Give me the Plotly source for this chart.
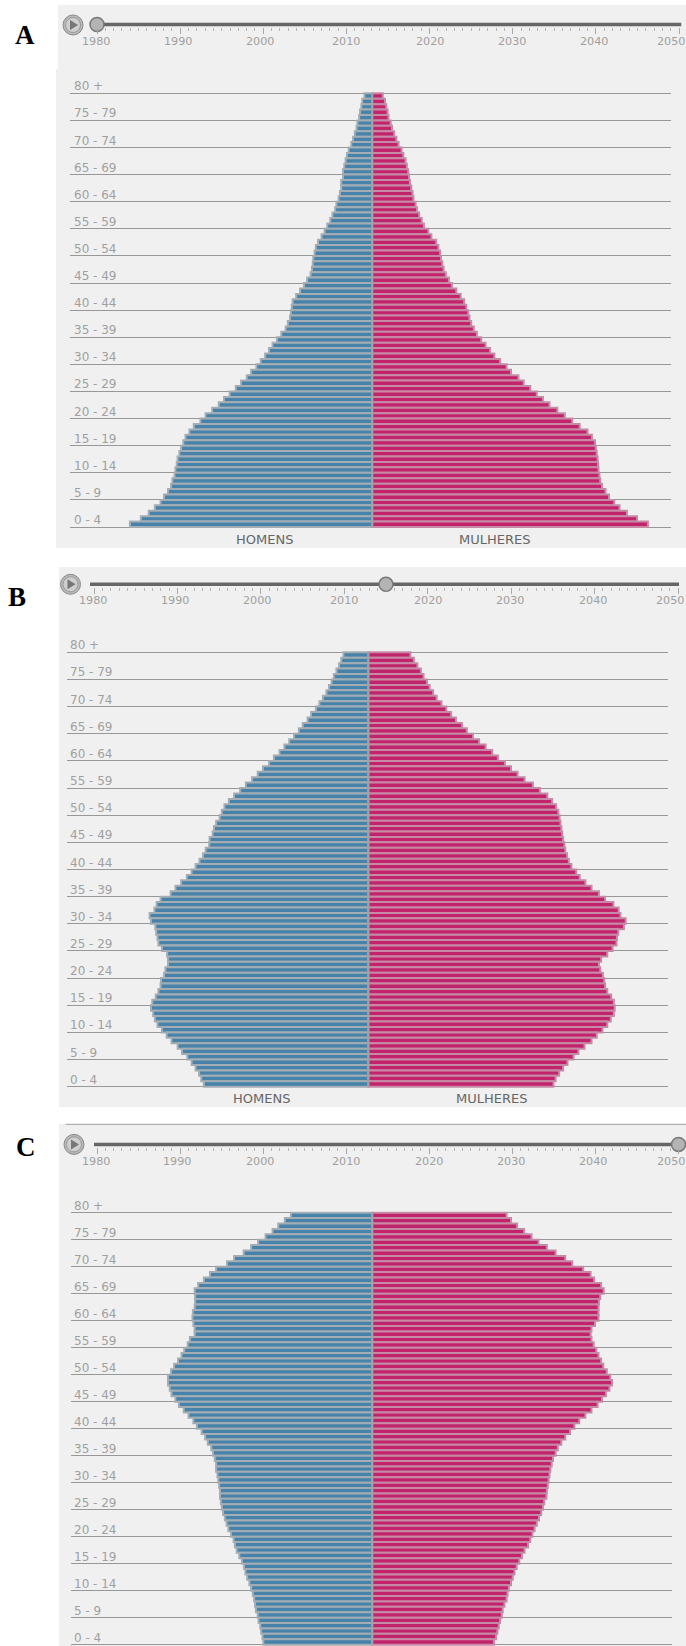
import plotly.graph_objects as go

# ages of the single-year bars, top row to bottom row
ages = list(range(79, -1, -1))
age_labels = ["80 +", "75 - 79", "70 - 74", "65 - 69", "60 - 64", "55 - 59", "50 - 54", "45 - 49", "40 - 44",
              "35 - 39", "30 - 34", "25 - 29", "20 - 24", "15 - 19", "10 - 14", "5 - 9", "0 - 4"]
year_ticks = [1980, 1990, 2000, 2010, 2020, 2030, 2040, 2050]
selected_years = [1980, 2015, 2050]
panel_letters = ["A", "B", "C"]

men_a = [18,23,25,28,30,34,36,40,44,48,54,58,61,64,67,67,71,71,74,77,82,85,91,96,103,109,116,124,129,132,135,136,138,141,149,156,165,174,182,184,
         186,188,193,198,208,218,228,236,245,255,265,277,287,300,312,326,339,351,366,381,393,408,418,427,432,437,441,445,447,450,452,457,460,467,476,484,497,511,529,554]
women_a = [24,29,32,35,37,42,45,50,55,60,67,71,76,79,82,84,86,89,92,94,99,102,107,113,118,128,135,146,151,155,157,160,163,168,175,182,192,202,210,215,
           219,222,226,232,239,249,259,269,279,292,307,317,334,346,361,376,390,405,423,440,457,474,492,502,509,511,513,515,516,517,519,521,525,533,541,553,565,582,605,630]
men_b = [57,62,67,73,79,84,90,96,104,112,120,131,139,150,159,170,181,192,203,216,227,241,253,266,280,293,307,319,329,335,340,348,353,356,363,
         364,372,378,386,395,404,415,428,441,452,475,484,489,500,497,487,485,482,480,472,460,458,458,464,467,474,475,480,486,494,497,492,488,482,472,461,450,436,426,414,404,395,387,382,376]
women_b = [96,104,112,120,126,134,140,148,156,167,178,189,200,214,225,239,253,268,283,296,312,326,341,357,376,392,409,420,429,434,437,439,441,443,445,
           448,450,454,458,464,475,483,496,510,527,541,560,572,576,588,584,571,568,567,558,546,532,527,530,536,539,541,546,555,561,563,561,554,546,535,522,510,494,480,469,455,445,436,428,423]
men_c = [186,200,215,228,244,261,277,294,316,332,357,371,385,398,406,405,405,406,410,411,409,406,406,417,422,430,436,444,453,460,467,
         467,463,459,450,442,431,420,409,401,390,382,376,368,364,360,357,357,354,352,350,348,348,346,344,341,337,333,329,323,317,314,310,304,298,293,290,286,281,277,273,270,268,266,262,260,256,254,251,249]
women_c = [307,317,331,347,364,380,399,419,441,457,482,499,507,523,529,521,518,517,517,517,509,501,499,501,506,512,517,523,528,536,544,
           548,542,534,525,515,501,487,473,462,452,441,432,424,419,413,410,407,405,403,401,399,398,393,390,386,381,376,371,366,361,356,348,342,336,330,325,321,317,312,309,307,302,298,296,292,289,286,283,278]

men = [men_a, men_b, men_c]
women = [women_a, women_b, women_c]

W, H = 686, 1646
UNIT = 2.2857  # data units per pixel


def xd(px):
    return px / W


def yd(py):
    return min(1, max(0, 1 - py / H))


# layout geometry of each panel, in pixels
geo = [
    dict(cx=372.3, gx0=70, gx1=671, top=93.3, bot=527, lab=71.5, xh=264, xm=494, yt=539,
         t1980=97, t2050=679, tr=24.5, tr0=97, tr1=681.5, pcx=73, pcy=25, ly=41,
         ltx=25, lty=35),
    dict(cx=368.4, gx0=67, gx1=668, top=652.3, bot=1086.7, lab=68, xh=261.6, xm=491.7, yt=1098.7,
         t1980=94, t2050=678, tr=584.3, tr0=90, tr1=679, pcx=70.5, pcy=584.3, ly=600.7,
         ltx=16.6, lty=596.7),
    dict(cx=372.3, gx0=71, gx1=671.6, top=1212.7, bot=1646.3, lab=71.5, xh=None, xm=None, yt=None,
         t1980=97, t2050=678.5, tr=1144.4, tr0=94, tr1=680, pcx=74, pcy=1144.4, ly=1161,
         ltx=26, lty=1147),
]
label_shift = [-1, -2.6, -3.5, 0, 0, -1, -2, -8]
PAD = 0.25  # extra age units kept round the range so the outer gridlines are drawn

BG = "#f0f0f0"
shapes = []
annotations = []
fig = go.Figure()


def rect(x0, y0, x1, y1, color):
    shapes.append(dict(type="rect", xref="paper", yref="paper", layer="below",
                       x0=xd(x0), x1=xd(x1), y0=yd(y1), y1=yd(y0),
                       fillcolor=color, line=dict(width=0)))


rect(58, 5, W, 70, BG)
rect(56, 69, W, 548, BG)
rect(59, 567, W, 1107, BG)
rect(59, 1124, W, H, BG)
shapes.append(dict(type="line", xref="paper", yref="paper", layer="below",
                   x0=xd(65.5), x1=1, y0=yd(1124.3), y1=yd(1124.3),
                   line=dict(color="#a0a0a0", width=1)))

layout_axes = {}
for i, g in enumerate(geo):
    n = i + 1
    a = 3 + n  # slider subplot index
    xa, ya = f"x{n}", f"y{n}"
    xs, ys = f"x{a}", f"y{a}"
    pxu = (g["bot"] - g["top"]) / 80
    layout_axes[f"xaxis{n}"] = dict(
        domain=[xd(g["gx0"]), xd(g["gx1"])],
        range=[(g["gx0"] - g["cx"]) * UNIT, (g["gx1"] - g["cx"]) * UNIT],
        anchor=ya, visible=False, fixedrange=True)
    layout_axes[f"yaxis{n}"] = dict(
        domain=[yd(g["bot"] + PAD * pxu), yd(g["top"] - PAD * pxu)], range=[-PAD, 80 + PAD], anchor=xa,
        tick0=0, dtick=5, showgrid=True, gridcolor="#989898", gridwidth=1.2,
        zeroline=False, showticklabels=False, ticks="", showline=False, fixedrange=True)

    fig.add_trace(go.Bar(y=[v + 0.5 for v in ages], x=[-v for v in men[i]], orientation="h", width=1,
                         marker=dict(color="#4682a9", line=dict(color="#a3adb3", width=2)),
                         xaxis=xa, yaxis=ya, name="HOMENS", showlegend=False))
    fig.add_trace(go.Bar(y=[v + 0.5 for v in ages], x=women[i], orientation="h", width=1,
                         marker=dict(color="#c2246c", line=dict(color="#c78aa6", width=2)),
                         xaxis=xa, yaxis=ya, name="MULHERES", showlegend=False))
    fig.add_trace(go.Scatter(x=[0, 0], y=[0, 80], mode="lines", line=dict(color="#a0a4a6", width=1.5),
                             xaxis=xa, yaxis=ya, showlegend=False, hoverinfo="skip"))

    # age labels sit just above their gridline
    for k, lab in enumerate(age_labels):
        annotations.append(dict(text=lab, xref="paper", yref=ya, x=xd(g["lab"]), y=(16 - k) * 5,
                                xanchor="left", yanchor="middle", yshift=7, showarrow=False,
                                font=dict(family="DejaVu Sans", size=12, color="#a0a0a0")))
    if g["xh"]:
        for lab, px in (("HOMENS", g["xh"]), ("MULHERES", g["xm"])):
            annotations.append(dict(text=lab, xref="paper", yref="paper", x=xd(px), y=yd(g["yt"]),
                                    xanchor="center", yanchor="middle", showarrow=False,
                                    font=dict(family="DejaVu Sans", size=13, color="#666666")))

    # time slider as its own small axis
    ppy = (g["t2050"] - g["t1980"]) / 70
    r0 = 1980 + (g["tr0"] - g["t1980"]) / ppy
    r1 = 1980 + (g["tr1"] - g["t1980"]) / ppy
    layout_axes[f"xaxis{a}"] = dict(
        domain=[xd(g["tr0"]), min(1, xd(g["tr1"]))], range=[r0, r1], anchor=ys,
        tick0=1980, dtick=10, ticks="outside", ticklen=6, tickwidth=1, tickcolor="#a8a8a8",
        minor=dict(tick0=1980, dtick=1, ticks="outside", ticklen=3, tickwidth=1, tickcolor="#b4b4b4"),
        showticklabels=False, showgrid=False, zeroline=False, showline=False, fixedrange=True)
    layout_axes[f"yaxis{a}"] = dict(
        domain=[yd(g["tr"] + 2.5), yd(g["tr"] - 2.5)], range=[0, 1], anchor=xs,
        visible=False, fixedrange=True)
    fig.add_trace(go.Scatter(x=[r0, r1], y=[0.5, 0.5], mode="lines", line=dict(color="#666666", width=3.5),
                             xaxis=xs, yaxis=ys, showlegend=False, hoverinfo="skip"))
    fig.add_trace(go.Scatter(x=[selected_years[i]], y=[0.5], mode="markers", cliponaxis=False,
                             marker=dict(size=14, color="#b4b4b4", line=dict(color="#787878", width=1.5)),
                             xaxis=xs, yaxis=ys, showlegend=False, hoverinfo="skip"))
    for y, s in zip(year_ticks, label_shift):
        annotations.append(dict(text=str(y), xref=xs, yref="paper", x=y, y=yd(g["ly"]),
                                xshift=s, xanchor="center", yanchor="middle", showarrow=False,
                                font=dict(family="DejaVu Sans", size=11.2, color="#a0a0a0")))

    # play button
    cx, cy = g["pcx"], g["pcy"]
    for r, fill, line in ((10, "#b8b8b8", "#8a8a8a"), (7.5, "#cfcfcf", "#9a9a9a")):
        shapes.append(dict(type="circle", xref="paper", yref="paper",
                           x0=xd(cx - r), x1=xd(cx + r), y0=yd(cy + r), y1=yd(cy - r),
                           fillcolor=fill, line=dict(color=line, width=1)))
    shapes.append(dict(type="path", xref="paper", yref="paper",
                       path=f"M {xd(cx-3)} {yd(cy-5)} L {xd(cx+5)} {yd(cy)} L {xd(cx-3)} {yd(cy+5)} Z",
                       fillcolor="#777777", line=dict(width=0)))

    annotations.append(dict(text=f"<b>{panel_letters[i]}</b>", xref="paper", yref="paper",
                            x=xd(g["ltx"]), y=yd(g["lty"]), xanchor="center", yanchor="middle", showarrow=False,
                            font=dict(family="Liberation Serif", size=27, color="#000000")))

fig.update_layout(
    width=W, height=H, autosize=False, margin=dict(l=0, r=0, t=0, b=0, pad=0),
    paper_bgcolor="white", plot_bgcolor="rgba(0,0,0,0)", barmode="overlay", showlegend=False,
    shapes=shapes, annotations=annotations, **layout_axes)

fig.write_html("out.html", config=dict(displayModeBar=False),
               post_script="document.body.style.margin='0';document.body.style.background='white';")
